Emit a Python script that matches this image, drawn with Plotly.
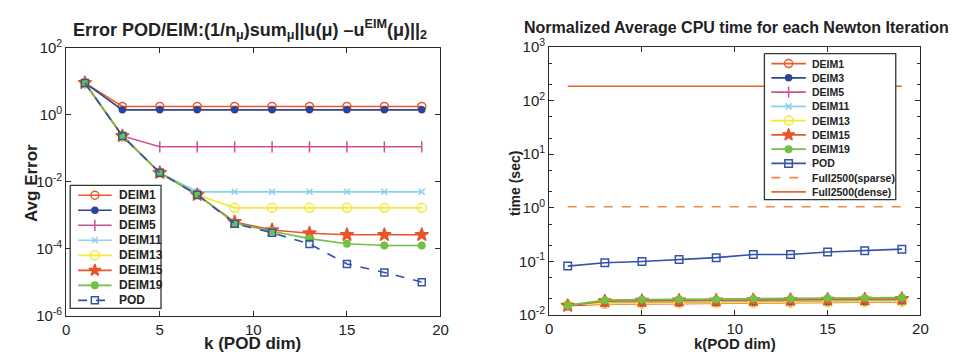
import plotly.graph_objects as go

# POD dimension used on both panels
k = [1, 3, 5, 7, 9, 11, 13, 15, 17, 19]

# Average error of the POD/DEIM reduced model
err_deim1 = [9.0, 1.78, 1.78, 1.78, 1.78, 1.78, 1.78, 1.78, 1.78, 1.78]
err_deim3 = [9.0, 1.41, 1.41, 1.41, 1.41, 1.41, 1.41, 1.41, 1.41, 1.41]
err_deim5 = [9.0, 0.235, 0.111, 0.111, 0.111, 0.111, 0.111, 0.111, 0.111, 0.111]
err_deim11 = [9.0, 0.235, 0.0186, 0.0050, 0.0050, 0.0050, 0.0050, 0.0050, 0.0050, 0.0050]
err_deim13 = [9.0, 0.235, 0.0186, 0.0041, 0.00166, 0.00166, 0.00166, 0.00166, 0.00166, 0.00166]
err_deim15 = [9.0, 0.235, 0.0186, 0.0041, 6.3e-4, 3.6e-4, 2.9e-4, 2.6e-4, 2.6e-4, 2.6e-4]
err_deim19 = [9.0, 0.235, 0.0186, 0.0041, 5.8e-4, 3.3e-4, 2.0e-4, 1.4e-4, 1.25e-4, 1.25e-4]
err_pod = [9.0, 0.235, 0.0186, 0.0041, 5.6e-4, 3.0e-4, 1.38e-4, 3.5e-5, 1.95e-5, 1.0e-5]

# Normalized average CPU time per Newton iteration
cpu_deim1 = [0.0150, 0.0160, 0.0162, 0.0164, 0.0165, 0.0167, 0.0169, 0.0171, 0.0173, 0.0176]
cpu_deim3 = [0.0152, 0.0166, 0.0168, 0.0170, 0.0171, 0.0174, 0.0176, 0.0178, 0.0180, 0.0183]
cpu_deim5 = [0.0153, 0.0170, 0.0172, 0.0174, 0.0175, 0.0178, 0.0180, 0.0182, 0.0184, 0.0187]
cpu_deim11 = [0.0154, 0.0176, 0.0178, 0.0180, 0.0181, 0.0184, 0.0186, 0.0188, 0.0190, 0.0193]
cpu_deim13 = [0.0156, 0.0164, 0.0165, 0.0167, 0.0168, 0.0170, 0.0172, 0.0174, 0.0176, 0.0179]
cpu_deim15 = [0.0150, 0.0182, 0.0185, 0.0187, 0.0188, 0.0191, 0.0193, 0.0195, 0.0197, 0.0201]
cpu_deim19 = [0.0152, 0.0190, 0.0196, 0.0198, 0.0196, 0.0202, 0.0202, 0.0206, 0.0208, 0.0212]
cpu_pod = [0.082, 0.095, 0.100, 0.109, 0.118, 0.135, 0.135, 0.150, 0.158, 0.170]
cpu_full_sparse = [1.05, 1.05, 1.05, 1.05, 1.05, 1.05, 1.05, 1.05, 1.05, 1.05]
cpu_full_dense = [185, 185, 185, 185, 185, 185, 185, 185, 185, 185]

W, H = 963, 361
FONT = "Liberation Sans, Arial, Helvetica, sans-serif"
AX = "#2a2a2a"
TXT = "#222"

# name -> (colour, marker symbol, marker size, dash)
STYLE = {
    "DEIM1": ("#ea5a2c", "circle-open", 8, "solid"),
    "DEIM3": ("#2c4596", "circle", 6, "solid"),
    "DEIM5": ("#d0508f", "line-ns-open", 8, "solid"),
    "DEIM11": ("#86d3ea", "x-thin-open", 6, "solid"),
    "DEIM13": ("#f2ea35", "circle-open", 9, "solid"),
    "DEIM15": ("#e9542c", "star", 10, "solid"),
    "DEIM19": ("#72c045", "circle", 6.5, "solid"),
    "POD": ("#3453a6", "square-open", 7, "dash"),
    "POD ": ("#3453a6", "square-open", 7.5, "solid"),
    "Full2500(sparse)": ("#f08a45", None, 0, "dash"),
    "Full2500(dense)": ("#ea6033", None, 0, "solid"),
}

err_series = [("DEIM1", err_deim1), ("DEIM3", err_deim3), ("DEIM5", err_deim5),
              ("DEIM11", err_deim11), ("DEIM13", err_deim13), ("DEIM15", err_deim15),
              ("DEIM19", err_deim19), ("POD", err_pod)]
cpu_series = [("POD ", cpu_pod), ("DEIM1", cpu_deim1), ("DEIM3", cpu_deim3), ("DEIM5", cpu_deim5),
              ("DEIM11", cpu_deim11), ("DEIM13", cpu_deim13), ("DEIM15", cpu_deim15),
              ("DEIM19", cpu_deim19), ("Full2500(sparse)", cpu_full_sparse),
              ("Full2500(dense)", cpu_full_dense)]
cpu_legend_order = ["DEIM1", "DEIM3", "DEIM5", "DEIM11", "DEIM13", "DEIM15", "DEIM19",
                    "POD ", "Full2500(sparse)", "Full2500(dense)"]

fig = go.Figure()


def add_series(name, xs, ys, xa, ya):
    color, sym, size, dash = STYLE[name]
    kw = dict(x=xs, y=ys, name=name.strip(), xaxis=xa, yaxis=ya, showlegend=False,
              line=dict(color=color, width=1.6, dash=dash))
    if sym:
        kw.update(mode="lines+markers",
                  marker=dict(color=color, symbol=sym, size=size, line=dict(color=color, width=1.5)))
    else:
        kw.update(mode="lines")
    fig.add_trace(go.Scatter(**kw))


for name, ys in err_series:
    add_series(name, k, ys, "x", "y")
for name, ys in cpu_series:
    add_series(name, k, ys, "x2", "y2")


# Legend boxes drawn on a pixel-scaled overlay axis (x3/y3) so the rows can be packed tightly
def draw_legend(names, box, row0, row_h, seg, txt_x, fsize):
    left, top, right, bottom = box
    fig.add_trace(go.Scatter(
        x=[left, right, right, left, left], y=[top, top, bottom, bottom, top],
        mode="lines", fill="toself", fillcolor="white",
        line=dict(color="#2f3a33", width=1.3), xaxis="x3", yaxis="y3",
        showlegend=False, hoverinfo="skip"))
    for i, name in enumerate(names):
        color, sym, size, dash = STYLE[name]
        yy = row0 + i * row_h
        fig.add_trace(go.Scatter(
            x=[seg[0], seg[1]], y=[yy, yy], mode="lines",
            line=dict(color=color, width=1.6, dash=dash if dash == "solid" else "dash"),
            xaxis="x3", yaxis="y3", showlegend=False, hoverinfo="skip"))
        if sym:
            fig.add_trace(go.Scatter(
                x=[(seg[0] + seg[1]) / 2], y=[yy], mode="markers",
                marker=dict(color=color, symbol=sym, size=min(size, 9),
                            line=dict(color=color, width=1.5)),
                xaxis="x3", yaxis="y3", showlegend=False, hoverinfo="skip"))
        fig.add_annotation(text="<b>%s</b>" % name.strip(), x=txt_x, y=yy, xref="x3", yref="y3",
                           xanchor="left", yanchor="middle", showarrow=False,
                           font=dict(family=FONT, size=fsize, color=TXT))


draw_legend([n for n, _ in err_series], (67, 184, 159, 314), 194.5, 15.85, (75, 109), 114, 12)
draw_legend(cpu_legend_order, (770, 45, 903, 199), 55.5, 15.05, (777, 812), 816, 10.5)


def px_x(a, b):
    return [a / W, b / W]


def px_y(top, bottom):
    return [(H - bottom) / H, (H - top) / H]


def sup(e):
    return "10<sup>%d</sup>" % e


tickfont = dict(family=FONT, size=15, color=TXT)
common_x = dict(range=[0, 20], tickvals=[0, 5, 10, 15, 20], ticks="inside", ticklen=5,
                showline=True, linecolor=AX, linewidth=1, mirror="ticks", tickcolor=AX,
                showgrid=False, zeroline=False, tickfont=tickfont)
common_y = dict(type="log", ticks="inside", ticklen=5, showline=True, linecolor=AX, linewidth=1,
                mirror="ticks", tickcolor=AX, showgrid=False, zeroline=False, tickfont=tickfont)
hidden = dict(showline=False, showgrid=False, zeroline=False, showticklabels=False, ticks="",
              fixedrange=True)

fig.update_layout(
    width=W, height=H, margin=dict(l=0, r=0, t=0, b=0), showlegend=False,
    paper_bgcolor="white", plot_bgcolor="rgba(0,0,0,0)", font=dict(family=FONT, color=TXT),
    xaxis=dict(domain=px_x(63, 442), anchor="y", **common_x),
    yaxis=dict(domain=px_y(39, 321.5), anchor="x", range=[-6, 2],
               tickvals=[1e-6, 1e-4, 1e-2, 1, 100], ticktext=[sup(e) for e in (-6, -4, -2, 0, 2)],
               **common_y),
    xaxis2=dict(domain=px_x(552, 928), anchor="y2", **common_x),
    yaxis2=dict(domain=px_y(38, 321), anchor="x2", range=[-2, 3],
                tickvals=[1e-2, 1e-1, 1, 10, 100, 1000],
                ticktext=[sup(e) for e in (-2, -1, 0, 1, 2, 3)],
                minor=dict(ticks="inside", ticklen=3, tickcolor=AX, showgrid=False),
                **common_y),
    xaxis3=dict(domain=[0, 1], range=[0, W], anchor="y3", **hidden),
    yaxis3=dict(domain=[0, 1], range=[H, 0], anchor="x3", **hidden),
)

annotations = [
    dict(text="<b>Error POD/EIM:(1/n<sub>μ</sub>)sum<sub>μ</sub>||u(μ) –u<sup>EIM</sup>(μ)||<sub>2</sub></b>",
         x=249 / W, y=(H - 19) / H, font=dict(size=18)),
    dict(text="<b>Normalized Average CPU time for each Newton Iteration</b>",
         x=742 / W, y=(H - 17) / H, font=dict(size=16)),
    dict(text="<b>k (POD dim)</b>", x=252 / W, y=(H - 351) / H, font=dict(size=17)),
    dict(text="<b>k(POD dim)</b>", x=740 / W, y=(H - 351) / H, font=dict(size=15)),
    dict(text="<b>Avg Error</b>", x=28 / W, y=(H - 182) / H, textangle=-90, font=dict(size=17)),
    dict(text="<b>time (sec)</b>", x=518 / W, y=(H - 182) / H, textangle=-90, font=dict(size=14)),
]
for a in annotations:
    a.update(xref="paper", yref="paper", showarrow=False, xanchor="center", yanchor="middle")
    a["font"].update(family=FONT, color=TXT)
    fig.add_annotation(**a)

fig.write_html("out.html")
